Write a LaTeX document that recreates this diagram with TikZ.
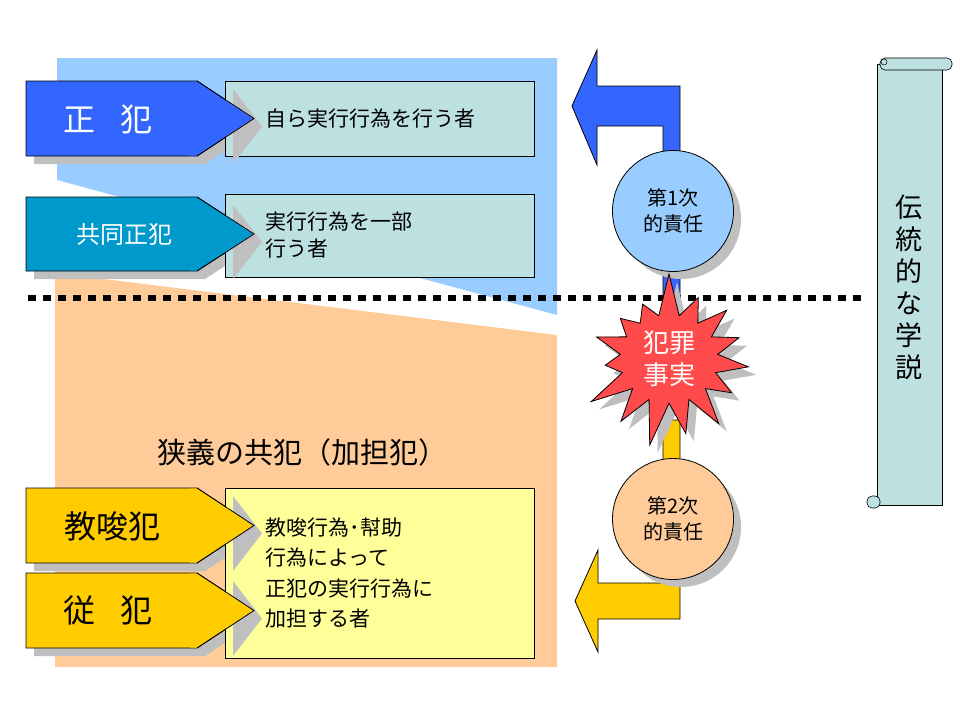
\documentclass[tikz,border=0pt]{standalone}
\usepackage{fontspec}
\setmainfont{Noto Sans CJK JP}
\usetikzlibrary{shapes.symbols,shapes.arrows}
\definecolor{bgblue}{HTML}{99CCFF}
\definecolor{bgor}{HTML}{FFCC99}
\definecolor{cblue}{HTML}{3366FF}
\definecolor{cteal}{HTML}{0099CC}
\definecolor{cyel}{HTML}{FFCC00}
\definecolor{bteal}{HTML}{BDE0E0}
\definecolor{byel}{HTML}{FFFF99}
\definecolor{cred}{HTML}{FF4B4B}
\begin{document}
\begin{tikzpicture}[x=1pt,y=-1pt,
  tb/.style={draw=black,line width=0.8pt},
  txt/.style={font=\fontsize{21}{27}\selectfont,align=left,anchor=west},
  sb/.style={starburst,starburst points=15,starburst point height=45pt,minimum width=188pt,minimum height=178pt,random starburst=7}]
\useasboundingbox (0,0) rectangle (960,720);
\fill[bgor] (55,273) -- (557,335) -- (557,667) -- (55,667) -- cycle;
\fill[bgblue] (57,58) -- (557,58) -- (557,315) -- (57,180) -- cycle;
\foreach \y/\h/\c in {81/75/cblue,197/74/cteal,488/75/cyel,573/75/cyel}{
  \fill[black!25] (34,\y+8) -- (205,\y+8) -- (262,\y+\h/2+8) -- (205,\y+\h+8) -- (34,\y+\h+8) -- cycle;
  \draw[tb,fill=\c] (26,\y) -- (197,\y) -- (254,\y+\h/2) -- (197,\y+\h) -- (26,\y+\h) -- cycle;
}
\node[tb,fill=bteal,minimum width=309pt,minimum height=75pt,anchor=north west] (b1) at (225,81) {};
\node[tb,fill=bteal,minimum width=309pt,minimum height=83pt,anchor=north west] (b2) at (225,194) {};
\node[tb,fill=byel,minimum width=309pt,minimum height=170pt,anchor=north west] (b3) at (225,488) {};
\foreach \y/\h/\c in {81/75/cblue,197/74/cteal,488/75/cyel,573/75/cyel}{
  \fill[black!25] (233,\y+8) -- (262,\y+\h/2+8) -- (233,\y+\h+8) -- cycle;
  \fill[\c] (190,\y+0.5) -- (197,\y+0.5) -- (253,\y+\h/2) -- (197,\y+\h-0.5) -- (190,\y+\h-0.5) -- cycle;
  \draw[tb] (197,\y) -- (254,\y+\h/2) -- (197,\y+\h);
}
\node[font=\fontsize{32}{32}\selectfont,text=white] (p1) at (108,119) {正\hspace{0.8em}犯};
\node[font=\fontsize{24}{24}\selectfont,text=white] (p2) at (124,234) {共同正犯};
\node[font=\fontsize{32}{32}\selectfont] (p3) at (112,526) {教唆犯};
\node[font=\fontsize{32}{32}\selectfont] (p4) at (108,610) {従\hspace{0.8em}犯};
\node[txt] (t1) at (262,119) {自ら実行行為を行う者};
\node[txt] (t2) at (262,235) {実行行為を一部\\行う者};
\node[txt,font=\fontsize{21}{30.5}\selectfont] (t3) at (262,573) {教唆行為･幇助\\行為によって\\正犯の実行行為に\\加担する者};
\node[font=\fontsize{29}{29}\selectfont] (title) at (302,452) {狭義の共犯（加担犯）};
\draw[line width=6pt,dash pattern=on 8pt off 7pt] (28,298) -- (865,298);
\draw[tb,fill=cblue] (680,86) -- (680,310) -- (663,310) -- (663,126) -- (597,126) -- (597,165) -- (572,106) -- (597,50) -- (597,86) -- cycle;
\draw[tb,fill=cyel] (680,420) -- (680,619) -- (598,619) -- (598,652) -- (575,601) -- (598,550) -- (598,583) -- (663,583) -- (663,420) -- cycle;
\fill[black!25] (681,219) circle (60);
\node[tb,circle,fill=bgblue,minimum size=121pt,font=\fontsize{20}{26}\selectfont,align=center] (c1) at (673,211) {第1次\\的責任};
\fill[black!25] (681,527) circle (60);
\node[tb,circle,fill=bgor,minimum size=121pt,font=\fontsize{20}{26}\selectfont,align=center] (c2) at (673,519) {第2次\\的責任};
\node[sb,fill=black!25] (sshadow) at (677,367) {};
\node[sb,tb,fill=cred,text=white,font=\fontsize{26}{32}\selectfont,align=center] (s) at (669,359) {犯罪\\事実};
\draw[tb,fill=bteal,line width=0.6pt] (877,64) -- (942,64) -- (942,505) -- (877,505) -- cycle;
\draw[tb,fill=bteal,line width=0.6pt,rounded corners=5] (880,58) rectangle (952,70);
\draw[line width=0.5pt] (884,62) circle (3);
\draw[tb,fill=bteal,line width=0.6pt,rounded corners=5] (867,496) rectangle (880,508);
\node[font=\fontsize{27}{32}\selectfont,align=center] (v) at (909,287) {伝\\統\\的\\な\\学\\説};
\end{tikzpicture}
\end{document}
